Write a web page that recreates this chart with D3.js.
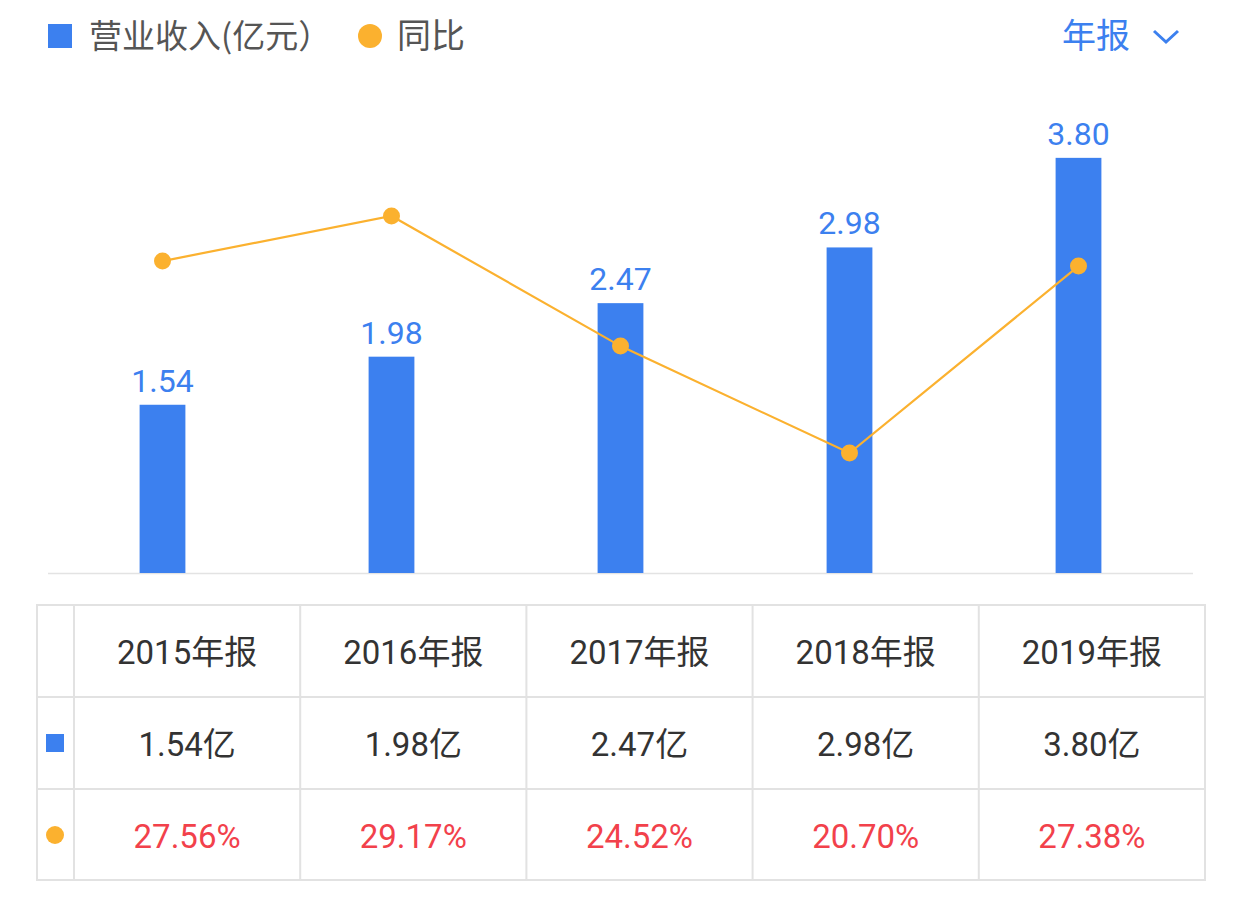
<!DOCTYPE html>
<html>
<head>
<meta charset="utf-8">
<script src="https://cdn.jsdelivr.net/npm/d3@7"></script>
<style>
  body { margin: 0; background: #fff; }
  svg text { font-family: Roboto, "Noto Sans CJK SC", "Noto Sans", sans-serif; }
  svg text.cjk { font-family: "Noto Sans CJK SC", "Noto Sans", sans-serif; }
</style>
</head>
<body>
<svg id="chart" width="1242" height="907"></svg>
<script>
var years = ['2015', '2016', '2017', '2018', '2019'];
var revenue = [1.54, 1.98, 2.47, 2.98, 3.80];
var growth = [27.56, 29.17, 24.52, 20.70, 27.38];

var blue = '#3c80ef';
var orange = '#fbb12f';
var red = '#f2414b';

var svg = d3.select('#chart');

// x scale for bars
var x = d3.scaleBand()
  .domain(years)
  .range([48, 1193])
  .paddingInner(0.8)
  .paddingOuter(0.4);

var y = d3.scaleLinear().domain([0, 4]).range([573, 136]);

// line uses its own min-max scale
var yLine = d3.scaleLinear().domain(d3.extent(growth)).range([453, 216]);

// baseline
svg.append('line')
  .attr('x1', 48).attr('x2', 1193)
  .attr('y1', 573.5).attr('y2', 573.5)
  .attr('stroke', '#e3e3e3').attr('stroke-width', 1.5);

svg.selectAll('rect.bar')
  .data(revenue)
  .enter()
  .append('rect')
  .attr('class', 'bar')
  .attr('x', function(d, i) { return x(years[i]); })
  .attr('y', function(d) { return y(d); })
  .attr('width', x.bandwidth())
  .attr('height', function(d) { return y(0) - y(d); })
  .attr('fill', blue);

svg.selectAll('text.barlabel')
  .data(revenue)
  .enter()
  .append('text')
  .attr('class', 'barlabel')
  .attr('x', function(d, i) { return x(years[i]) + x.bandwidth() / 2; })
  .attr('y', function(d) { return y(d) - 13; })
  .attr('text-anchor', 'middle')
  .attr('font-size', 32)
  .attr('fill', blue)
  .text(function(d) { return d.toFixed(2); });

var line = d3.line()
  .x(function(d, i) { return x(years[i]) + x.bandwidth() / 2; })
  .y(function(d) { return yLine(d); });

svg.append('path')
  .datum(growth)
  .attr('d', line)
  .attr('fill', 'none')
  .attr('stroke', orange)
  .attr('stroke-width', 2.2);

svg.selectAll('circle.pt')
  .data(growth)
  .enter()
  .append('circle')
  .attr('class', 'pt')
  .attr('cx', function(d, i) { return x(years[i]) + x.bandwidth() / 2; })
  .attr('cy', function(d) { return yLine(d); })
  .attr('r', 8.5)
  .attr('fill', orange);

// legend
svg.append('rect').attr('x', 48).attr('y', 24).attr('width', 24).attr('height', 24).attr('fill', blue);
svg.append('text').attr('class', 'cjk').attr('x', 89).attr('y', 48).attr('font-size', 33).attr('fill', '#555')
  .text('营业收入(亿元）');
svg.append('circle').attr('cx', 370).attr('cy', 36).attr('r', 12).attr('fill', orange);
svg.append('text').attr('class', 'cjk').attr('x', 397).attr('y', 48).attr('font-size', 34).attr('fill', '#555')
  .text('同比');

svg.append('text').attr('class', 'cjk').attr('x', 1062).attr('y', 48).attr('font-size', 34).attr('fill', blue)
  .text('年报');
svg.append('path')
  .attr('d', 'M1154,31 L1166,42 L1178,31')
  .attr('fill', 'none').attr('stroke', blue).attr('stroke-width', 3);

// table
var tableX = 37, tableRight = 1205, firstCol = 74;
var rowYs = [605, 697, 789, 880];
var colX = d3.scaleBand().domain(years).range([firstCol, tableRight]);
var grid = '#e2e2e2';

svg.append('rect')
  .attr('x', tableX).attr('y', rowYs[0])
  .attr('width', tableRight - tableX).attr('height', rowYs[3] - rowYs[0])
  .attr('fill', 'none').attr('stroke', grid).attr('stroke-width', 2);

[rowYs[1], rowYs[2]].forEach(function(ry) {
  svg.append('line').attr('x1', tableX).attr('x2', tableRight)
    .attr('y1', ry).attr('y2', ry).attr('stroke', grid).attr('stroke-width', 2);
});

[firstCol].concat(years.slice(1).map(function(c) { return colX(c); })).forEach(function(cx) {
  svg.append('line').attr('x1', cx).attr('x2', cx)
    .attr('y1', rowYs[0]).attr('y2', rowYs[3]).attr('stroke', grid).attr('stroke-width', 2);
});

function rowText(values, rowIdx, color, fmt) {
  svg.selectAll('text.row' + rowIdx)
    .data(values)
    .enter()
    .append('text')
    .attr('class', 'row' + rowIdx)
    .attr('x', function(d, i) { return colX(years[i]) + colX.bandwidth() / 2; })
    .attr('y', (rowYs[rowIdx] + rowYs[rowIdx + 1]) / 2 + 13)
    .attr('text-anchor', 'middle')
    .attr('font-size', 33)
    .attr('fill', color)
    .text(fmt);
}

rowText(years, 0, '#333', function(d) { return d + '年报'; });
rowText(revenue, 1, '#333', function(d) { return d.toFixed(2) + '亿'; });
rowText(growth, 2, red, function(d) { return d.toFixed(2) + '%'; });

svg.append('rect').attr('x', 46).attr('y', 734).attr('width', 18).attr('height', 18).attr('fill', blue);
svg.append('circle').attr('cx', 55).attr('cy', 835).attr('r', 9).attr('fill', orange);
</script>
</body>
</html>
